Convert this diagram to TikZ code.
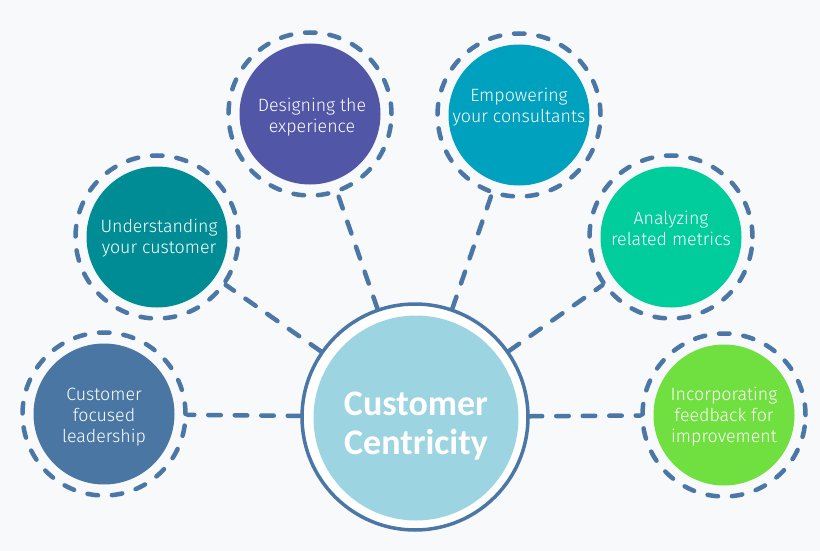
\documentclass[tikz,border=0pt]{standalone}
\usepackage{fontspec}
\setmainfont{Carlito}
\newfontfamily\lightfont{Fira Sans}[UprightFont={* Light}]
\definecolor{bg}{HTML}{F8F9FA}
\definecolor{ringblue}{HTML}{4A77A6}
\definecolor{cfill}{HTML}{9DD4E2}
\definecolor{sA}{HTML}{4A76A3}
\definecolor{sB}{HTML}{008C95}
\definecolor{sC}{HTML}{5156A6}
\definecolor{sD}{HTML}{00A0BF}
\definecolor{sE}{HTML}{00CC9C}
\definecolor{sF}{HTML}{70E040}
\begin{document}
\begin{tikzpicture}[x=1pt,y=-1pt,
  satring/.style={circle, draw=ringblue, line width=4.5pt, dash pattern=on 10.5pt off 14pt, line cap=round, minimum size=163pt, inner sep=0pt},
  satfill/.style={circle, minimum size=141pt, inner sep=0pt},
  lbl/.style={text=white, font=\lightfont\fontsize{17.8}{21}\selectfont, align=center, inner sep=0pt},
  conn/.style={draw=ringblue, line width=4.5pt, dash pattern=on 12.5pt off 14pt, line cap=round}]
\fill[bg] (0,0) rectangle (820,551);
\useasboundingbox (0,0) rectangle (820,551);
% centre
\node[circle, draw=ringblue, line width=3.5pt, fill=white, minimum size=226pt, inner sep=0pt] (c) at (415,417) {};
\node[circle, fill=cfill, minimum size=205pt, inner sep=0pt] (cf) at (416,418) {};
\node[text=white, font=\bfseries\fontsize{36}{39}\selectfont, align=center, inner sep=0pt] (ct) at (416,426) {Customer\\Centricity};
% satellites
\node[satring] (r1) at (104,414) {};
\node[satfill, fill=sA] (f1) at (104,414) {};
\node[lbl] (t1) at (104,417) {Customer\\focused\\leadership};

\node[satring] (r2) at (157,237) {};
\node[satfill, fill=sB] (f2) at (157,237) {};
\node[lbl] (t2) at (159,238) {Understanding\\your customer};

\node[satring] (r3) at (310,114) {};
\node[satfill, fill=sC] (f3) at (310,114) {};
\node[lbl] (t3) at (312,117) {Designing the\\experience};

\node[satring] (r4) at (519,115) {};
\node[satfill, fill=sD] (f4) at (519,115) {};
\node[lbl] (t4) at (519,107) {Empowering\\your consultants};

\node[satring] (r5) at (671,237) {};
\node[satfill, fill=sE] (f5) at (671,237) {};
\node[lbl] (t5) at (671,228) {Analyzing\\related metrics};

\node[satring] (r6) at (724,415) {};
\node[satfill, fill=sF] (f6) at (724,415) {};
\node[lbl] (t6) at (724,417) {Incorporating\\feedback for\\improvement};
% connectors
\draw[conn] (c) -- (r1);
\draw[conn] (c) -- (r2);
\draw[conn] (c) -- (r3);
\draw[conn] (c) -- (r4);
\draw[conn] (c) -- (r5);
\draw[conn] (c) -- (r6);
\end{tikzpicture}
\end{document}
